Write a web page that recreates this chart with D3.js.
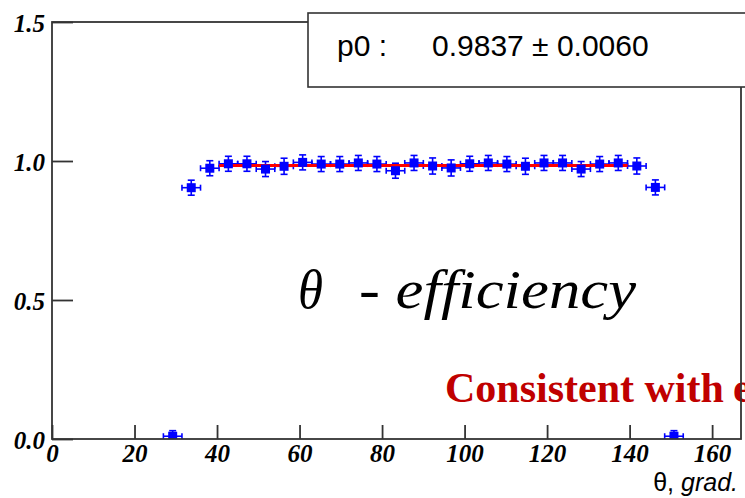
<!DOCTYPE html>
<html>
<head>
<meta charset="utf-8">
<script src="https://cdn.jsdelivr.net/npm/d3@7"></script>
<style>
  html, body { margin: 0; padding: 0; background: #ffffff; overflow: hidden; }
  svg { display: block; }
</style>
</head>
<body>
<svg id="chart" width="745" height="498"></svg>
<script>
// ---- data ----
const thetaCenters = [29.25, 33.75, 38.25, 42.75, 47.25, 51.75, 56.25, 60.75, 65.25, 69.75,
  74.25, 78.75, 83.25, 87.75, 92.25, 96.75, 101.25, 105.75, 110.25, 114.75,
  119.25, 123.75, 128.25, 132.75, 137.25, 141.75, 146.25, 150.75];
const binHalfWidth = [2.25, 2.25, 2.25, 2.25, 2.25, 2.25, 2.25, 2.25, 2.25, 2.25,
  2.25, 2.25, 2.25, 2.25, 2.25, 2.25, 2.25, 2.25, 2.25, 2.25,
  2.25, 2.25, 2.25, 2.25, 2.25, 2.25, 2.25, 2.25];
const efficiency = [0.01, 0.904, 0.974, 0.990, 0.990, 0.971, 0.981, 0.995, 0.989, 0.989,
  0.993, 0.989, 0.965, 0.993, 0.982, 0.975, 0.990, 0.993, 0.989, 0.981,
  0.993, 0.993, 0.971, 0.989, 0.993, 0.982, 0.905, 0.01];
const effError = [0.02, 0.027, 0.027, 0.027, 0.027, 0.027, 0.029, 0.027, 0.027, 0.027,
  0.027, 0.027, 0.027, 0.027, 0.029, 0.029, 0.027, 0.027, 0.027, 0.029,
  0.027, 0.027, 0.027, 0.027, 0.027, 0.029, 0.027, 0.02];
const fitP0 = 0.9837;
const fitP0Err = 0.0060;
const fitRange = [40.5, 139.5];
const xTicks = [0, 20, 40, 60, 80, 100, 120, 140, 160];
const yTicks = [0.0, 0.5, 1.0, 1.5];
const xDomain = [0, 167];
const yDomain = [0, 1.5];

// ---- layout ----
const svg = d3.select("#chart");
const mLeft = 52, mRight = 741, mTop = 22, mBottom = 439;
const x = d3.scaleLinear().domain(xDomain).range([mLeft, mRight]);
const y = d3.scaleLinear().domain(yDomain).range([mBottom, mTop]);
const frameColor = "#333333";
const blue = "#0000ff";

svg.append("rect").attr("width", 745).attr("height", 498).attr("fill", "#ffffff");

const defs = svg.append("defs");
defs.append("clipPath").attr("id", "plotClip")
  .append("rect").attr("x", mLeft).attr("y", mTop).attr("width", mRight - mLeft).attr("height", mBottom - mTop);
defs.append("clipPath").attr("id", "pageClip")
  .append("rect").attr("x", 0).attr("y", 0).attr("width", 745).attr("height", 498);

// annotation texts (under the frame)
const serif = "'Liberation Serif', 'Times New Roman', serif";
svg.append("text")
  .attr("x", 445).attr("y", 402)
  .attr("font-family", serif)
  .attr("font-weight", "bold").attr("font-size", 42).attr("fill", "#c00000")
  .text("Consistent with");
// the next word starts right at the page edge in the reference; only its first glyph shows
svg.append("g").attr("clip-path", "url(#pageClip)")
  .append("text")
  .attr("x", 733).attr("y", 402)
  .attr("font-family", serif)
  .attr("font-weight", "bold").attr("font-size", 42).attr("fill", "#c00000")
  .text("e");

svg.append("text")
  .attr("x", 298).attr("y", 308)
  .attr("font-family", serif)
  .attr("font-style", "italic").attr("font-size", 54).attr("fill", "#000")
  .attr("textLength", 25).attr("lengthAdjust", "spacingAndGlyphs")
  .text("θ");
svg.append("text")
  .attr("x", 359).attr("y", 308)
  .attr("font-family", serif)
  .attr("font-style", "italic").attr("font-size", 54).attr("fill", "#000")
  .attr("textLength", 277).attr("lengthAdjust", "spacingAndGlyphs")
  .text("- efficiency");

// data layer
const plot = svg.append("g").attr("clip-path", "url(#plotClip)");
const pts = thetaCenters.map((t, i) => ({ t, hw: binHalfWidth[i], v: efficiency[i], e: effError[i] }));

const bars = plot.append("g").attr("stroke", blue).attr("stroke-width", 1.6).attr("fill", "none");
pts.forEach(d => {
  const cx = x(d.t), cy = y(d.v);
  const x0 = x(d.t - d.hw), x1 = x(d.t + d.hw);
  const y0 = y(d.v - d.e), y1 = y(d.v + d.e);
  bars.append("line").attr("x1", x0).attr("x2", x1).attr("y1", cy).attr("y2", cy);
  bars.append("line").attr("x1", x0).attr("x2", x0).attr("y1", cy - 3).attr("y2", cy + 3);
  bars.append("line").attr("x1", x1).attr("x2", x1).attr("y1", cy - 3).attr("y2", cy + 3);
  bars.append("line").attr("x1", cx).attr("x2", cx).attr("y1", y0).attr("y2", y1);
  bars.append("line").attr("x1", cx - 3.5).attr("x2", cx + 3.5).attr("y1", y0).attr("y2", y0);
  bars.append("line").attr("x1", cx - 3.5).attr("x2", cx + 3.5).attr("y1", y1).attr("y2", y1);
});

plot.append("line")
  .attr("x1", x(fitRange[0])).attr("x2", x(fitRange[1]))
  .attr("y1", y(fitP0)).attr("y2", y(fitP0))
  .attr("stroke", "#ff0000").attr("stroke-width", 3);

plot.append("g").selectAll("rect").data(pts).join("rect")
  .attr("x", d => x(d.t) - 4.5).attr("y", d => y(d.v) - 4.5)
  .attr("width", 9).attr("height", 9).attr("fill", blue);

// axes
const xAxis = svg.append("g").attr("transform", `translate(0,${mBottom})`)
  .call(d3.axisBottom(x).tickValues(xTicks).tickSize(-14).tickPadding(5).tickFormat(d3.format("d")));
const yAxis = svg.append("g").attr("transform", `translate(${mLeft},0)`)
  .call(d3.axisLeft(y).tickValues(yTicks).tickSize(-21).tickPadding(7).tickFormat(d3.format(".1f")));
[xAxis, yAxis].forEach(g => {
  g.select(".domain").remove();
  g.selectAll(".tick line").attr("stroke", frameColor).attr("stroke-width", 1.8);
  g.selectAll(".tick text")
    .attr("font-family", serif).attr("font-weight", "bold").attr("font-style", "italic")
    .attr("font-size", 25).attr("fill", "#000");
});
yAxis.selectAll(".tick text").attr("dy", "0.36em");

// frame
svg.append("rect")
  .attr("x", mLeft).attr("y", mTop).attr("width", mRight - mLeft).attr("height", mBottom - mTop)
  .attr("fill", "none").attr("stroke", frameColor).attr("stroke-width", 1.8);

// axis title
const xt = svg.append("text")
  .attr("x", 738).attr("y", 491).attr("text-anchor", "end")
  .attr("font-family", "'Liberation Sans', Arial, sans-serif")
  .attr("font-size", 25).attr("fill", "#000");
xt.append("tspan").text("θ, ");
xt.append("tspan").attr("font-style", "italic").text("grad.");

// stat box
svg.append("rect")
  .attr("x", 308).attr("y", 13).attr("width", 500).attr("height", 74)
  .attr("fill", "#ffffff").attr("stroke", frameColor).attr("stroke-width", 1.6);
svg.append("text")
  .attr("x", 337).attr("y", 56)
  .attr("font-family", "'Liberation Sans', Arial, sans-serif")
  .attr("font-size", 30).attr("fill", "#000")
  .text("p0 :");
svg.append("text")
  .attr("x", 432).attr("y", 56)
  .attr("font-family", "'Liberation Sans', Arial, sans-serif")
  .attr("font-size", 30).attr("fill", "#000")
  .text(`${fitP0.toFixed(4)} ± ${fitP0Err.toFixed(4)}`);
</script>
</body>
</html>
